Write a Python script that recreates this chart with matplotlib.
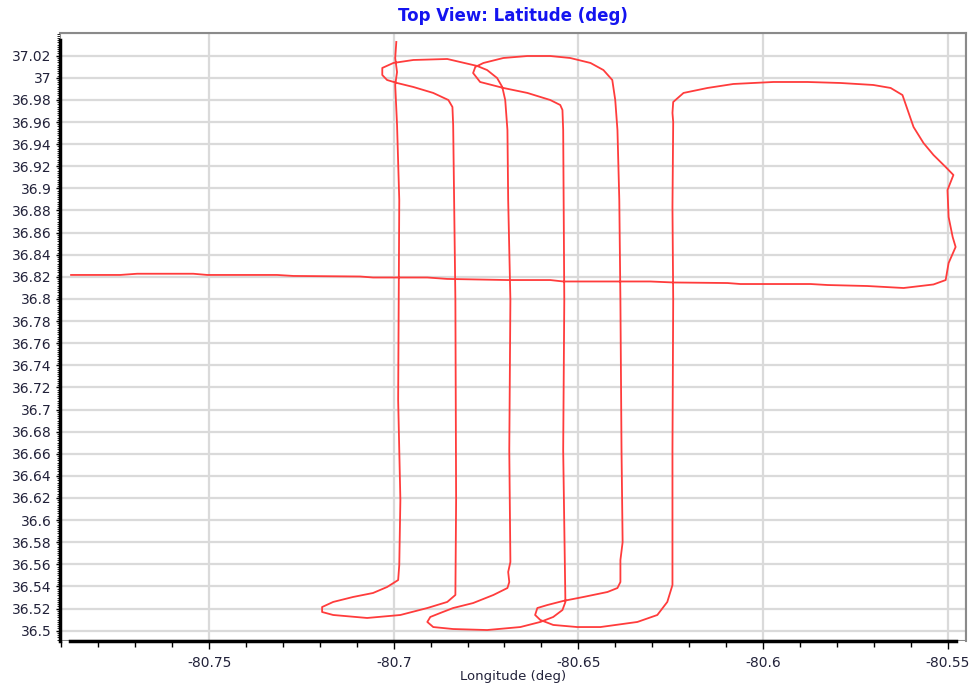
import numpy as np
import matplotlib.pyplot as plt
from matplotlib.patches import Rectangle
from matplotlib.ticker import MultipleLocator, FixedLocator, FuncFormatter

# flight track (deg)
lon = [-80.7874, -80.7741, -80.7695, -80.7543, -80.7505, -80.7316, -80.7272, -80.7091,
       -80.7056, -80.6909, -80.6855, -80.6692, -80.6576, -80.6541, -80.6305, -80.6243,
       -80.6096, -80.6061, -80.5871, -80.5825, -80.5717, -80.5619, -80.5538, -80.5505,
       -80.5497, -80.5478, -80.5486, -80.5497, -80.5500, -80.5484, -80.5505, -80.5538,
       -80.5565, -80.5592, -80.5608, -80.5622, -80.5654, -80.5701, -80.5790, -80.5879,
       -80.5972, -80.6080, -80.6150, -80.6215, -80.6243, -80.6245, -80.6243, -80.6245,
       -80.6243, -80.6245, -80.6245, -80.6259, -80.6286, -80.6340, -80.6440, -80.6503,
       -80.6568, -80.6603, -80.6617, -80.6611, -80.6584, -80.6541, -80.6486, -80.6421,
       -80.6394, -80.6386, -80.6386, -80.6380, -80.6383, -80.6386, -80.6389, -80.6394,
       -80.6400, -80.6408, -80.6432, -80.6467, -80.6522, -80.6576, -80.6638, -80.6703,
       -80.6757, -80.6779, -80.6785, -80.6766, -80.6703, -80.6638, -80.6576, -80.6549,
       -80.6543, -80.6541, -80.6538, -80.6541, -80.6535, -80.6543, -80.6568, -80.6603,
       -80.6657, -80.6747, -80.6839, -80.6893, -80.6909, -80.6901, -80.6874, -80.6839,
       -80.6785, -80.6730, -80.6692, -80.6687, -80.6690, -80.6684, -80.6687, -80.6684,
       -80.6690, -80.6692, -80.6698, -80.6706, -80.6720, -80.6747, -80.6774, -80.6820,
       -80.6855, -80.6947, -80.7001, -80.7031, -80.7031, -80.7018, -80.6991, -80.6947,
       -80.6893, -80.6852, -80.6841, -80.6839, -80.6833, -80.6831, -80.6833, -80.6855,
       -80.6909, -80.6982, -80.7072, -80.7164, -80.7194, -80.7194, -80.7164, -80.7110,
       -80.7056, -80.7018, -80.6988, -80.6985, -80.6982, -80.6988, -80.6985, -80.6991,
       -80.6996, -80.6991, -80.6996, -80.6993]
lat = [36.8217, 36.8217, 36.8228, 36.8228, 36.8217, 36.8217, 36.8208, 36.8203,
       36.8194, 36.8194, 36.8181, 36.8171, 36.8171, 36.8158, 36.8158, 36.8149,
       36.8144, 36.8135, 36.8135, 36.8126, 36.8117, 36.8099, 36.8131, 36.8171,
       36.8325, 36.8470, 36.8560, 36.8741, 36.8985, 36.9121, 36.9193, 36.9302,
       36.9410, 36.9555, 36.9709, 36.9844, 36.9908, 36.9935, 36.9953, 36.9962,
       36.9962, 36.9944, 36.9908, 36.9863, 36.9781, 36.9682, 36.9600, 36.8832,
       36.7991, 36.6634, 36.5413, 36.5260, 36.5142, 36.5079, 36.5033, 36.5033,
       36.5052, 36.5097, 36.5142, 36.5205, 36.5232, 36.5269, 36.5305, 36.5350,
       36.5386, 36.5440, 36.5639, 36.5800, 36.6634, 36.7991, 36.8895, 36.9528,
       36.9799, 36.9980, 37.0070, 37.0134, 37.0179, 37.0197, 37.0197, 37.0179,
       37.0134, 37.0098, 37.0043, 36.9962, 36.9908, 36.9863, 36.9799, 36.9754,
       36.9709, 36.9528, 36.7991, 36.6634, 36.5260, 36.5187, 36.5124, 36.5079,
       36.5033, 36.5006, 36.5015, 36.5033, 36.5079, 36.5124, 36.5160, 36.5205,
       36.5250, 36.5323, 36.5386, 36.5440, 36.5531, 36.5621, 36.6634, 36.7991,
       36.8895, 36.9528, 36.9799, 36.9917, 36.9998, 37.0070, 37.0107, 37.0143,
       37.0170, 37.0161, 37.0134, 37.0089, 37.0025, 36.9980, 36.9953, 36.9917,
       36.9863, 36.9799, 36.9736, 36.9573, 36.7991, 36.6182, 36.5323, 36.5260,
       36.5205, 36.5142, 36.5115, 36.5142, 36.5169, 36.5214, 36.5260, 36.5305,
       36.5341, 36.5395, 36.5458, 36.5594, 36.6182, 36.7086, 36.8895, 36.9573,
       36.9935, 37.0052, 37.0179, 37.0324]

x_ticks = [-80.75, -80.7, -80.65, -80.6, -80.55]
y_ticks = list(np.round(np.arange(36.5, 37.021, 0.02), 2))
label_col = '#22223a'

fig = plt.figure(figsize=(9.77, 6.89), dpi=100)
ax = fig.add_axes([0.0614, 0.0697, 0.9273, 0.8824])

ax.set_xlim(-80.7904, -80.5450)
ax.set_ylim(36.4907, 37.0405)

ax.set_xticks(x_ticks)
ax.xaxis.set_minor_locator(MultipleLocator(0.01))
ax.yaxis.set_major_locator(FixedLocator(y_ticks))
ax.yaxis.set_minor_locator(MultipleLocator(0.002))
fmt = FuncFormatter(lambda v, p: f"{round(v, 2):g}")
ax.xaxis.set_major_formatter(fmt)
ax.yaxis.set_major_formatter(fmt)

ax.grid(True, which='major', color='#dadada', linewidth=1.6, zorder=0)
ax.set_axisbelow(True)

ax.plot(lon, lat, color='#ff3c3c', linewidth=1.3, zorder=3)

# frame: light grey box, heavy black left/bottom axis lines
for s in ['top', 'right']:
    ax.spines[s].set_color('#8a8a8a')
    ax.spines[s].set_linewidth(1.5)
ax.add_patch(Rectangle((0, 0), 1, 1, transform=ax.transAxes, fill=False,
                       edgecolor='#8a8a8a', linewidth=1.5, zorder=1))
ax.spines['left'].set_linewidth(2.5)
ax.spines['bottom'].set_linewidth(2.5)
ax.spines['left'].set_bounds(36.4907, 37.034)
ax.spines['bottom'].set_bounds(-80.7877, -80.5476)

ax.tick_params(axis='both', which='major', labelsize=10, labelcolor=label_col,
               color='black')
ax.tick_params(axis='y', which='major', length=3, width=1, pad=3)
ax.tick_params(axis='y', which='minor', length=2, width=0.6)
ax.tick_params(axis='x', which='major', length=6, width=1, pad=5)
ax.tick_params(axis='x', which='minor', length=4, width=1)

ax.set_title('Top View: Latitude (deg)', color='#1414f0', fontsize=12,
             fontweight='bold', pad=9)
ax.set_xlabel('Longitude (deg)', fontsize=9.5, color=label_col, labelpad=0)

fig.savefig('out.png', dpi=100)
